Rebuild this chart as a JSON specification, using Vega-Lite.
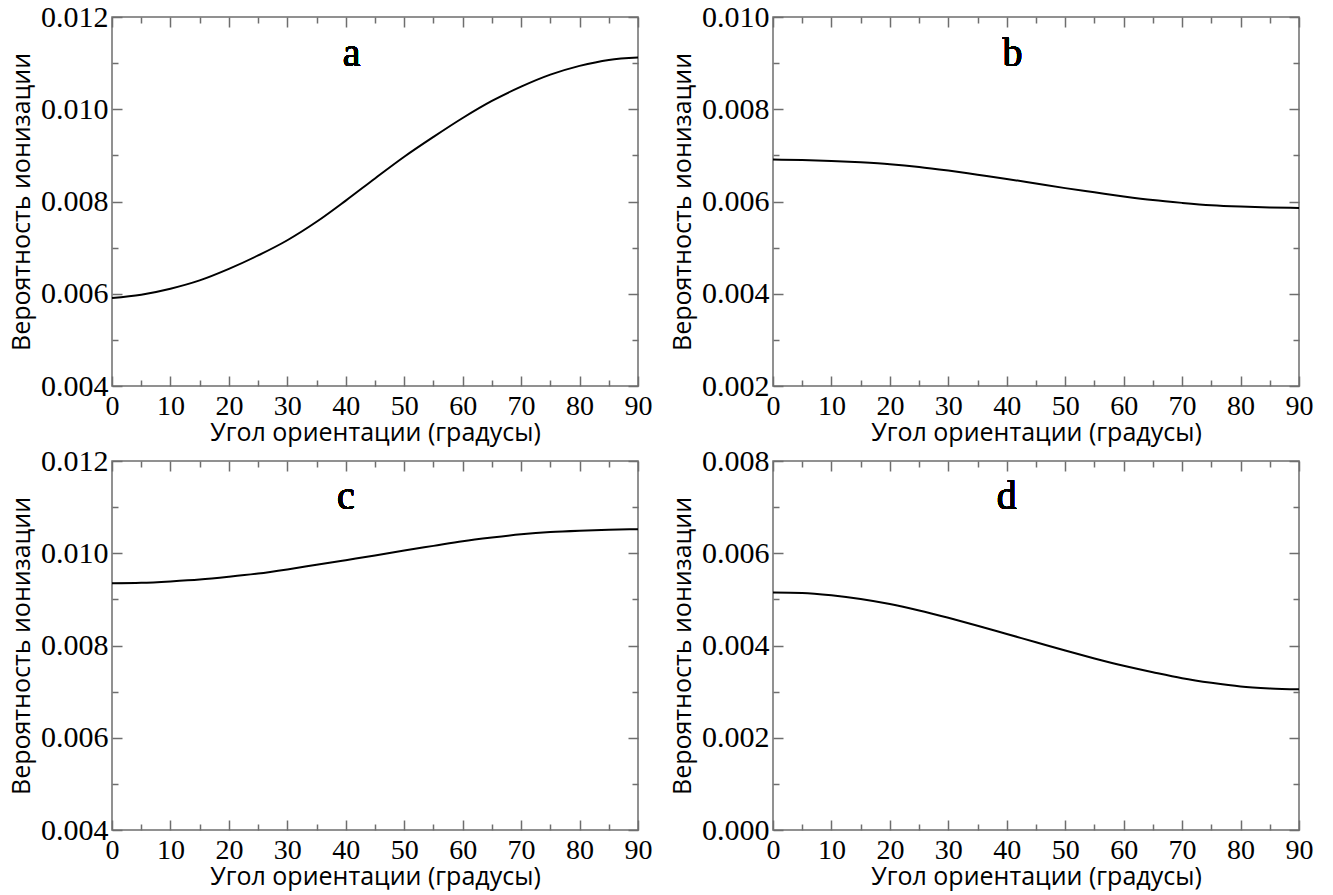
{
  "$schema": "https://vega.github.io/schema/vega-lite/v6.json",
  "background": "white",
  "padding": {"left": 8, "top": 1, "right": 35, "bottom": 4},
  "bounds": "flush",
  "columns": 2,
  "spacing": {"row": 75, "column": 135},
  "datasets": {
    "a": [
      {"angle": 0, "p": 0.00591}, {"angle": 5, "p": 0.00598}, {"angle": 10, "p": 0.00611}, {"angle": 15, "p": 0.00629},
      {"angle": 20, "p": 0.00654}, {"angle": 25, "p": 0.00683}, {"angle": 30, "p": 0.00716}, {"angle": 35, "p": 0.00756},
      {"angle": 40, "p": 0.00802}, {"angle": 45, "p": 0.00850}, {"angle": 50, "p": 0.00897}, {"angle": 55, "p": 0.00940},
      {"angle": 60, "p": 0.00981}, {"angle": 65, "p": 0.01018}, {"angle": 70, "p": 0.01049}, {"angle": 75, "p": 0.01075},
      {"angle": 80, "p": 0.01094}, {"angle": 85, "p": 0.01107}, {"angle": 90, "p": 0.01112}
    ],
    "b": [
      {"angle": 0, "p": 0.00691}, {"angle": 5, "p": 0.00690}, {"angle": 10, "p": 0.00688}, {"angle": 15, "p": 0.00685},
      {"angle": 20, "p": 0.00681}, {"angle": 25, "p": 0.00675}, {"angle": 30, "p": 0.00667}, {"angle": 35, "p": 0.00658},
      {"angle": 40, "p": 0.00649}, {"angle": 45, "p": 0.00639}, {"angle": 50, "p": 0.00629}, {"angle": 55, "p": 0.00620},
      {"angle": 60, "p": 0.00611}, {"angle": 65, "p": 0.00603}, {"angle": 70, "p": 0.00597}, {"angle": 75, "p": 0.00592},
      {"angle": 80, "p": 0.00589}, {"angle": 85, "p": 0.00587}, {"angle": 90, "p": 0.00586}
    ],
    "c": [
      {"angle": 0, "p": 0.00935}, {"angle": 5, "p": 0.00936}, {"angle": 10, "p": 0.00939}, {"angle": 15, "p": 0.00943},
      {"angle": 20, "p": 0.00949}, {"angle": 25, "p": 0.00956}, {"angle": 30, "p": 0.00965}, {"angle": 35, "p": 0.00975},
      {"angle": 40, "p": 0.00985}, {"angle": 45, "p": 0.00995}, {"angle": 50, "p": 0.01006}, {"angle": 55, "p": 0.01016},
      {"angle": 60, "p": 0.01026}, {"angle": 65, "p": 0.01034}, {"angle": 70, "p": 0.01041}, {"angle": 75, "p": 0.01046},
      {"angle": 80, "p": 0.01049}, {"angle": 85, "p": 0.01051}, {"angle": 90, "p": 0.01052}
    ],
    "d": [
      {"angle": 0, "p": 0.00515}, {"angle": 5, "p": 0.00514}, {"angle": 10, "p": 0.00509}, {"angle": 15, "p": 0.00501},
      {"angle": 20, "p": 0.00490}, {"angle": 25, "p": 0.00476}, {"angle": 30, "p": 0.00460}, {"angle": 35, "p": 0.00443},
      {"angle": 40, "p": 0.00425}, {"angle": 45, "p": 0.00407}, {"angle": 50, "p": 0.00389}, {"angle": 55, "p": 0.00372},
      {"angle": 60, "p": 0.00356}, {"angle": 65, "p": 0.00342}, {"angle": 70, "p": 0.00329}, {"angle": 75, "p": 0.00319},
      {"angle": 80, "p": 0.00311}, {"angle": 85, "p": 0.00307}, {"angle": 90, "p": 0.00305}
    ]
  },
  "config": {
    "view": {"stroke": "#6e6e6e", "strokeWidth": 1.5},
    "axis": {
      "domain": false, "grid": false,
      "tickColor": "#6e6e6e", "tickWidth": 1.5,
      "labelFont": "Liberation Serif", "labelColor": "#000",
      "labelFlush": false, "labelOverlap": false,
      "titleFont": "Open Sans", "titleFontSize": 25, "titleFontWeight": "normal", "titleColor": "#000"
    },
    "axisX": {"labelFontSize": 28, "labelPadding": 6, "titlePadding": 0},
    "axisY": {"labelFontSize": 30, "labelPadding": 4, "titlePadding": 6},
    "text": {"font": "Liberation Serif", "fontSize": 40, "fontWeight": "normal", "color": "#000", "align": "center", "baseline": "alphabetic"}
  },
  "concat": [
    {
      "width": 526, "height": 369,
      "data": {"name": "a"},
      "resolve": {"axis": {"x": "independent", "y": "independent"}},
      "layer": [
        {
          "mark": {"type": "line", "color": "#000", "strokeWidth": 2, "interpolate": "monotone"},
          "encoding": {
            "x": {"field": "angle", "type": "quantitative", "scale": {"domain": [0, 90], "nice": false, "zero": false},
                  "axis": {"values": [0, 10, 20, 30, 40, 50, 60, 70, 80, 90], "ticks": false, "title": "Угол ориентации (градусы)"}},
            "y": {"field": "p", "type": "quantitative", "scale": {"domain": [0.004, 0.012], "nice": false, "zero": false},
                  "axis": {"values": [0.004, 0.006, 0.008, 0.01, 0.012], "format": ".3f", "ticks": false, "title": "Вероятность ионизации"}}
          }
        },
        {
          "mark": {"type": "line", "opacity": 0},
          "encoding": {
            "x": {"field": "angle", "type": "quantitative", "scale": {"domain": [0, 90], "nice": false, "zero": false},
                  "axis": {"orient": "bottom", "values": [0, 5, 10, 15, 20, 25, 30, 35, 40, 45, 50, 55, 60, 65, 70, 75, 80, 85, 90], "labels": false, "title": null,
                           "tickSize": {"condition": {"test": "datum.value % 10 === 0", "value": -10}, "value": -6}}},
            "y": {"field": "p", "type": "quantitative", "scale": {"domain": [0.004, 0.012], "nice": false, "zero": false},
                  "axis": {"orient": "left", "values": [0.004, 0.005, 0.006, 0.007, 0.008, 0.009, 0.01, 0.011, 0.012], "labels": false, "title": null,
                           "tickSize": {"condition": {"test": "round(datum.value * 1000) % 2 === 0", "value": -10}, "value": -6}}}
          }
        },
        {
          "mark": {"type": "line", "opacity": 0},
          "encoding": {
            "x": {"field": "angle", "type": "quantitative", "scale": {"domain": [0, 90], "nice": false, "zero": false},
                  "axis": {"orient": "top", "values": [0, 5, 10, 15, 20, 25, 30, 35, 40, 45, 50, 55, 60, 65, 70, 75, 80, 85, 90], "labels": false, "title": null,
                           "tickSize": {"condition": {"test": "datum.value % 10 === 0", "value": -10}, "value": -6}}},
            "y": {"field": "p", "type": "quantitative", "scale": {"domain": [0.004, 0.012], "nice": false, "zero": false},
                  "axis": {"orient": "right", "values": [0.004, 0.005, 0.006, 0.007, 0.008, 0.009, 0.01, 0.011, 0.012], "labels": false, "title": null,
                           "tickSize": {"condition": {"test": "round(datum.value * 1000) % 2 === 0", "value": -10}, "value": -6}}}
          }
        },
        {
          "mark": {"type": "text", "text": "a"},
          "encoding": {
            "x": {"datum": 41, "type": "quantitative", "axis": null},
            "y": {"datum": 0.01094, "type": "quantitative", "axis": null}
          }
        }
      ]
    },
    {
      "width": 526, "height": 369,
      "data": {"name": "b"},
      "resolve": {"axis": {"x": "independent", "y": "independent"}},
      "layer": [
        {
          "mark": {"type": "line", "color": "#000", "strokeWidth": 2, "interpolate": "monotone"},
          "encoding": {
            "x": {"field": "angle", "type": "quantitative", "scale": {"domain": [0, 90], "nice": false, "zero": false},
                  "axis": {"values": [0, 10, 20, 30, 40, 50, 60, 70, 80, 90], "ticks": false, "title": "Угол ориентации (градусы)"}},
            "y": {"field": "p", "type": "quantitative", "scale": {"domain": [0.002, 0.01], "nice": false, "zero": false},
                  "axis": {"values": [0.002, 0.004, 0.006, 0.008, 0.01], "format": ".3f", "ticks": false, "title": "Вероятность ионизации"}}
          }
        },
        {
          "mark": {"type": "line", "opacity": 0},
          "encoding": {
            "x": {"field": "angle", "type": "quantitative", "scale": {"domain": [0, 90], "nice": false, "zero": false},
                  "axis": {"orient": "bottom", "values": [0, 5, 10, 15, 20, 25, 30, 35, 40, 45, 50, 55, 60, 65, 70, 75, 80, 85, 90], "labels": false, "title": null,
                           "tickSize": {"condition": {"test": "datum.value % 10 === 0", "value": -10}, "value": -6}}},
            "y": {"field": "p", "type": "quantitative", "scale": {"domain": [0.002, 0.01], "nice": false, "zero": false},
                  "axis": {"orient": "left", "values": [0.002, 0.003, 0.004, 0.005, 0.006, 0.007, 0.008, 0.009, 0.01], "labels": false, "title": null,
                           "tickSize": {"condition": {"test": "round(datum.value * 1000) % 2 === 0", "value": -10}, "value": -6}}}
          }
        },
        {
          "mark": {"type": "line", "opacity": 0},
          "encoding": {
            "x": {"field": "angle", "type": "quantitative", "scale": {"domain": [0, 90], "nice": false, "zero": false},
                  "axis": {"orient": "top", "values": [0, 5, 10, 15, 20, 25, 30, 35, 40, 45, 50, 55, 60, 65, 70, 75, 80, 85, 90], "labels": false, "title": null,
                           "tickSize": {"condition": {"test": "datum.value % 10 === 0", "value": -10}, "value": -6}}},
            "y": {"field": "p", "type": "quantitative", "scale": {"domain": [0.002, 0.01], "nice": false, "zero": false},
                  "axis": {"orient": "right", "values": [0.002, 0.003, 0.004, 0.005, 0.006, 0.007, 0.008, 0.009, 0.01], "labels": false, "title": null,
                           "tickSize": {"condition": {"test": "round(datum.value * 1000) % 2 === 0", "value": -10}, "value": -6}}}
          }
        },
        {
          "mark": {"type": "text", "text": "b"},
          "encoding": {
            "x": {"datum": 41, "type": "quantitative", "axis": null},
            "y": {"datum": 0.00894, "type": "quantitative", "axis": null}
          }
        }
      ]
    },
    {
      "width": 526, "height": 369,
      "data": {"name": "c"},
      "resolve": {"axis": {"x": "independent", "y": "independent"}},
      "layer": [
        {
          "mark": {"type": "line", "color": "#000", "strokeWidth": 2, "interpolate": "monotone"},
          "encoding": {
            "x": {"field": "angle", "type": "quantitative", "scale": {"domain": [0, 90], "nice": false, "zero": false},
                  "axis": {"values": [0, 10, 20, 30, 40, 50, 60, 70, 80, 90], "ticks": false, "title": "Угол ориентации (градусы)"}},
            "y": {"field": "p", "type": "quantitative", "scale": {"domain": [0.004, 0.012], "nice": false, "zero": false},
                  "axis": {"values": [0.004, 0.006, 0.008, 0.01, 0.012], "format": ".3f", "ticks": false, "title": "Вероятность ионизации"}}
          }
        },
        {
          "mark": {"type": "line", "opacity": 0},
          "encoding": {
            "x": {"field": "angle", "type": "quantitative", "scale": {"domain": [0, 90], "nice": false, "zero": false},
                  "axis": {"orient": "bottom", "values": [0, 5, 10, 15, 20, 25, 30, 35, 40, 45, 50, 55, 60, 65, 70, 75, 80, 85, 90], "labels": false, "title": null,
                           "tickSize": {"condition": {"test": "datum.value % 10 === 0", "value": -10}, "value": -6}}},
            "y": {"field": "p", "type": "quantitative", "scale": {"domain": [0.004, 0.012], "nice": false, "zero": false},
                  "axis": {"orient": "left", "values": [0.004, 0.005, 0.006, 0.007, 0.008, 0.009, 0.01, 0.011, 0.012], "labels": false, "title": null,
                           "tickSize": {"condition": {"test": "round(datum.value * 1000) % 2 === 0", "value": -10}, "value": -6}}}
          }
        },
        {
          "mark": {"type": "line", "opacity": 0},
          "encoding": {
            "x": {"field": "angle", "type": "quantitative", "scale": {"domain": [0, 90], "nice": false, "zero": false},
                  "axis": {"orient": "top", "values": [0, 5, 10, 15, 20, 25, 30, 35, 40, 45, 50, 55, 60, 65, 70, 75, 80, 85, 90], "labels": false, "title": null,
                           "tickSize": {"condition": {"test": "datum.value % 10 === 0", "value": -10}, "value": -6}}},
            "y": {"field": "p", "type": "quantitative", "scale": {"domain": [0.004, 0.012], "nice": false, "zero": false},
                  "axis": {"orient": "right", "values": [0.004, 0.005, 0.006, 0.007, 0.008, 0.009, 0.01, 0.011, 0.012], "labels": false, "title": null,
                           "tickSize": {"condition": {"test": "round(datum.value * 1000) % 2 === 0", "value": -10}, "value": -6}}}
          }
        },
        {
          "mark": {"type": "text", "text": "c"},
          "encoding": {
            "x": {"datum": 40, "type": "quantitative", "axis": null},
            "y": {"datum": 0.01096, "type": "quantitative", "axis": null}
          }
        }
      ]
    },
    {
      "width": 526, "height": 369,
      "data": {"name": "d"},
      "resolve": {"axis": {"x": "independent", "y": "independent"}},
      "layer": [
        {
          "mark": {"type": "line", "color": "#000", "strokeWidth": 2, "interpolate": "monotone"},
          "encoding": {
            "x": {"field": "angle", "type": "quantitative", "scale": {"domain": [0, 90], "nice": false, "zero": false},
                  "axis": {"values": [0, 10, 20, 30, 40, 50, 60, 70, 80, 90], "ticks": false, "title": "Угол ориентации (градусы)"}},
            "y": {"field": "p", "type": "quantitative", "scale": {"domain": [0, 0.008], "nice": false, "zero": false},
                  "axis": {"values": [0, 0.002, 0.004, 0.006, 0.008], "format": ".3f", "ticks": false, "title": "Вероятность ионизации"}}
          }
        },
        {
          "mark": {"type": "line", "opacity": 0},
          "encoding": {
            "x": {"field": "angle", "type": "quantitative", "scale": {"domain": [0, 90], "nice": false, "zero": false},
                  "axis": {"orient": "bottom", "values": [0, 5, 10, 15, 20, 25, 30, 35, 40, 45, 50, 55, 60, 65, 70, 75, 80, 85, 90], "labels": false, "title": null,
                           "tickSize": {"condition": {"test": "datum.value % 10 === 0", "value": -10}, "value": -6}}},
            "y": {"field": "p", "type": "quantitative", "scale": {"domain": [0, 0.008], "nice": false, "zero": false},
                  "axis": {"orient": "left", "values": [0, 0.001, 0.002, 0.003, 0.004, 0.005, 0.006, 0.007, 0.008], "labels": false, "title": null,
                           "tickSize": {"condition": {"test": "round(datum.value * 1000) % 2 === 0", "value": -10}, "value": -6}}}
          }
        },
        {
          "mark": {"type": "line", "opacity": 0},
          "encoding": {
            "x": {"field": "angle", "type": "quantitative", "scale": {"domain": [0, 90], "nice": false, "zero": false},
                  "axis": {"orient": "top", "values": [0, 5, 10, 15, 20, 25, 30, 35, 40, 45, 50, 55, 60, 65, 70, 75, 80, 85, 90], "labels": false, "title": null,
                           "tickSize": {"condition": {"test": "datum.value % 10 === 0", "value": -10}, "value": -6}}},
            "y": {"field": "p", "type": "quantitative", "scale": {"domain": [0, 0.008], "nice": false, "zero": false},
                  "axis": {"orient": "right", "values": [0, 0.001, 0.002, 0.003, 0.004, 0.005, 0.006, 0.007, 0.008], "labels": false, "title": null,
                           "tickSize": {"condition": {"test": "round(datum.value * 1000) % 2 === 0", "value": -10}, "value": -6}}}
          }
        },
        {
          "mark": {"type": "text", "text": "d"},
          "encoding": {
            "x": {"datum": 40, "type": "quantitative", "axis": null},
            "y": {"datum": 0.00696, "type": "quantitative", "axis": null}
          }
        }
      ]
    }
  ]
}
